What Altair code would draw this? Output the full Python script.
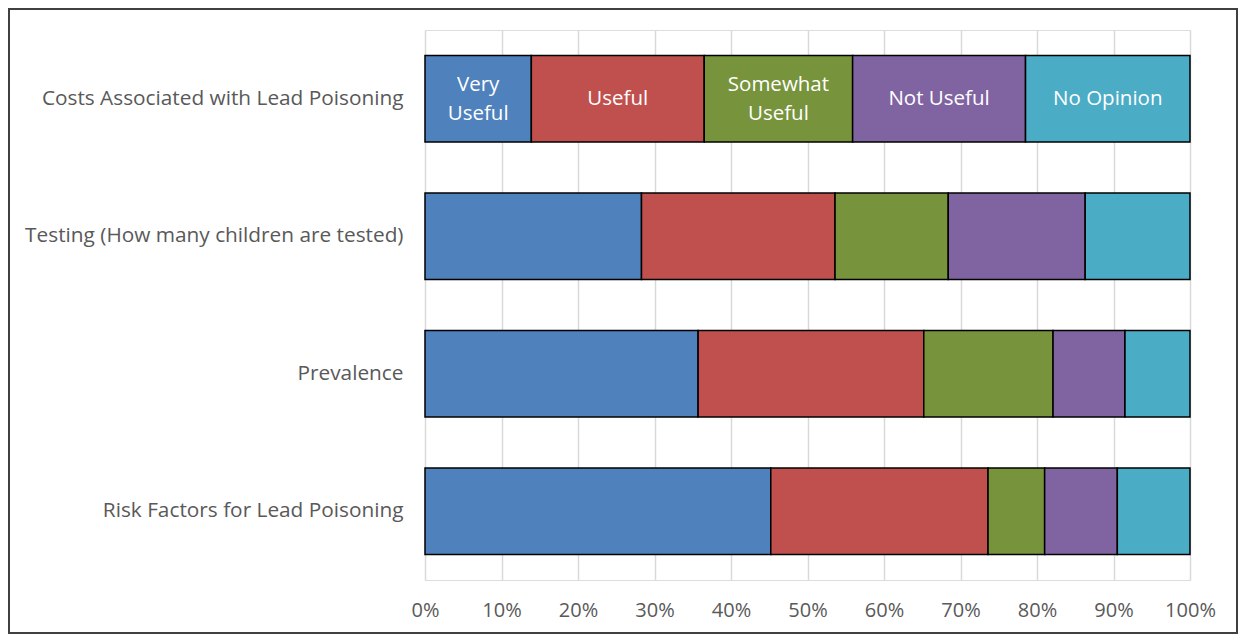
import altair as alt
import pandas as pd

questions = [
    "Costs Associated with Lead Poisoning",
    "Testing (How many children are tested)",
    "Prevalence",
    "Risk Factors for Lead Poisoning",
]
responses = ["Very Useful", "Useful", "Somewhat Useful", "Not Useful", "No Opinion"]
labels = ["Very\nUseful", "Useful", "Somewhat\nUseful", "Not Useful", "No Opinion"]
colors = ["#4F81BD", "#C0504D", "#77933C", "#8064A2", "#4BACC6"]

very_useful = [13.9, 28.3, 35.7, 45.2]
useful = [22.6, 25.3, 29.5, 28.4]
somewhat_useful = [19.4, 14.8, 16.9, 7.4]
not_useful = [22.6, 17.9, 9.4, 9.5]
no_opinion = [21.5, 13.7, 8.5, 9.5]

series = [very_useful, useful, somewhat_useful, not_useful, no_opinion]
rows = []
for ri, (resp, lab, vals) in enumerate(zip(responses, labels, series)):
    for q, v in zip(questions, vals):
        rows.append({"question": q, "response": resp, "label": lab, "order": ri, "value": v})
df = pd.DataFrame(rows)

FONT = "Open Sans"

base = alt.Chart(df).transform_stack(
    stack="value", groupby=["question"], as_=["x0", "x1"],
    sort=[alt.SortField("order", order="ascending")]
)

y_enc = alt.Y("question:N", sort=questions, title=None,
              scale=alt.Scale(paddingInner=0.37, paddingOuter=0.185),
              axis=alt.Axis(labelFont=FONT, labelFontSize=20.8, labelColor="#595959",
                            labelPadding=22, ticks=False, domain=False, labelLimit=500))

bars = base.mark_bar(stroke="black", strokeWidth=1.5).encode(
    x=alt.X("x0:Q", title=None,
            scale=alt.Scale(domain=[0, 100], nice=False),
            axis=alt.Axis(values=list(range(0, 101, 10)),
                          labelExpr="datum.value + '%'",
                          labelFont=FONT, labelFontSize=20, labelColor="#595959",
                          labelFlush=False, labelOverlap=False,
                          labelPadding=20, ticks=False, domain=False,
                          grid=True, gridColor="#D9D9D9", gridWidth=1.5)),
    x2="x1:Q",
    y=y_enc,
    color=alt.Color("response:N", sort=responses,
                    scale=alt.Scale(domain=responses, range=colors), legend=None),
)

labelled = base.transform_filter(
    alt.datum.question == questions[0]
).transform_calculate(
    mid="(datum.x0 + datum.x1) / 2",
    multi="indexof(datum.label, '\\n') >= 0 ? 1 : 0",
)

text_single = labelled.transform_filter(alt.datum.multi == 0).mark_text(
    color="white", font=FONT, fontSize=20.5, align="center", baseline="middle"
).encode(
    x=alt.X("mid:Q"),
    y=alt.Y("question:N", sort=questions),
    text="label:N",
)

text_multi = labelled.transform_filter(alt.datum.multi == 1).mark_text(
    color="white", font=FONT, fontSize=20.5, lineBreak="\n", lineHeight=29,
    align="center", baseline="middle", dy=-14
).encode(
    x=alt.X("mid:Q"),
    y=alt.Y("question:N", sort=questions),
    text="label:N",
)

frame = alt.Chart(pd.DataFrame({"a": [0]})).mark_rect(
    filled=False, stroke="#404040", strokeWidth=2
).encode(
    x=alt.value(-416), x2=alt.value(812), y=alt.value(-21), y2=alt.value(603)
)

chart = alt.layer(bars, text_single, text_multi, frame).properties(
    width=765, height=550,
    autosize=alt.AutoSizeParams(type="none"),
    padding={"left": 417, "top": 22, "right": 48, "bottom": 54},
).configure_view(stroke=None).configure(background="white")

chart.save("out.html", embed_options={"renderer": "svg", "actions": False})
